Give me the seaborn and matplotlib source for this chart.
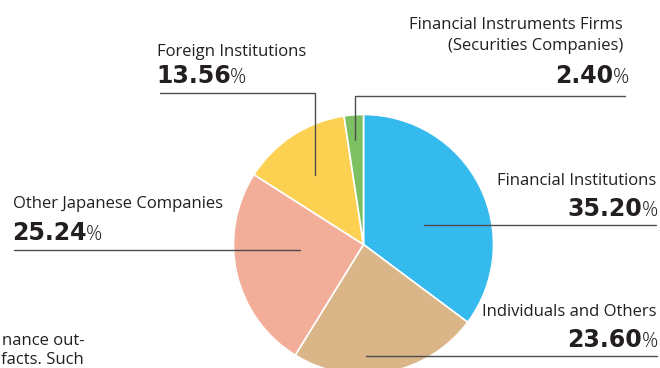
import matplotlib
matplotlib.use("Agg")
import matplotlib.pyplot as plt
import seaborn as sns

# Shareholder composition (percent of shares held)
categories = [
    "Financial Institutions",
    "Individuals and Others",
    "Other Japanese Companies",
    "Foreign Institutions",
    "Financial Instruments Firms\n(Securities Companies)",
]
shares = [35.20, 23.60, 25.24, 13.56, 2.40]
value_labels = ["35.20", "23.60", "25.24", "13.56", "2.40"]
colors = ["#35BAEE", "#D9B588", "#F2AE98", "#FCD152", "#7CC062"]

sns.set_theme(style="white")
plt.rcParams["font.family"] = ["Open Sans", "DejaVu Sans"]

W, H = 660, 368
fig = plt.figure(figsize=(W / 100, H / 100), dpi=100)
ax = fig.add_axes([0, 0, 1, 1])
ax.set_xlim(0, W)
ax.set_ylim(0, H)
ax.set_aspect("equal")
ax.axis("off")


def Y(py):
    return H - py


cx, cy, r = 363.5, 244.5, 130
ax.pie(shares, colors=colors, startangle=90, counterclock=False,
       center=(cx, Y(cy)), radius=r, frame=True,
       wedgeprops=dict(edgecolor="white", linewidth=1.2))
ax.set_xlim(0, W)
ax.set_ylim(0, H)
ax.axis("off")

txt = "#231f20"
line_c = "#4d4d4d"
name_fs = 12
num_fs = 17
pct_fs = 14.5
num_font = ["DejaVu Sans"]

fig.canvas.draw()
renderer = fig.canvas.get_renderer()


def name_text(x, py, s, ha):
    ax.text(x, Y(py), s, fontsize=name_fs, color=txt, ha=ha,
            va="baseline")


def value_text(x, py, value, align):
    """Bold figure followed by a lighter percent sign."""
    if align == "right":
        p = ax.text(x, Y(py), "%", fontsize=pct_fs, color=txt,
                    ha="right", va="baseline", fontweight=300)
        bb = p.get_window_extent(renderer)
        x0 = ax.transData.inverted().transform((bb.x0, 0))[0]
        ax.text(x0 + 0.5, Y(py), value, fontsize=num_fs, fontweight="bold",
                family=num_font, color=txt, ha="right", va="baseline")
    else:
        n = ax.text(x, Y(py), value, fontsize=num_fs, fontweight="bold",
                    family=num_font, color=txt, ha="left", va="baseline")
        bb = n.get_window_extent(renderer)
        x1 = ax.transData.inverted().transform((bb.x1, 0))[0]
        ax.text(x1 - 0.5, Y(py), "%", fontsize=pct_fs, color=txt,
                ha="left", va="baseline", fontweight=300)


# Financial Institutions
name_text(656, 185, categories[0], "right")
value_text(658, 215.5, value_labels[0], "right")
ax.plot([424, 656], [Y(225), Y(225)], color=line_c, lw=1)

# Individuals and Others
name_text(657, 316, categories[1], "right")
value_text(658, 347, value_labels[1], "right")
ax.plot([366, 657], [Y(355.5), Y(355.5)], color=line_c, lw=1)

# Other Japanese Companies
name_text(13, 208, categories[2], "left")
value_text(12, 240, value_labels[2], "left")
ax.plot([14, 300], [Y(249.5), Y(249.5)], color=line_c, lw=1)

# Foreign Institutions
name_text(157, 56, categories[3], "left")
value_text(156, 83, value_labels[3], "left")
ax.plot([160, 315, 315], [Y(93), Y(93), Y(175)], color=line_c, lw=1)

# Financial Instruments Firms
first, second = categories[4].split("\n")
name_text(623, 29, first, "right")
name_text(623, 50, second, "right")
value_text(629, 83, value_labels[4], "right")
ax.plot([625, 355, 355], [Y(96), Y(96), Y(140)], color=line_c, lw=1)

# Body text running in from the page margin
ax.text(84, Y(345), "nance out-", fontsize=name_fs, color=txt,
        ha="right", va="baseline")
ax.text(84, Y(364), "facts. Such", fontsize=name_fs, color=txt,
        ha="right", va="baseline")

fig.savefig("out.png", dpi=100)
